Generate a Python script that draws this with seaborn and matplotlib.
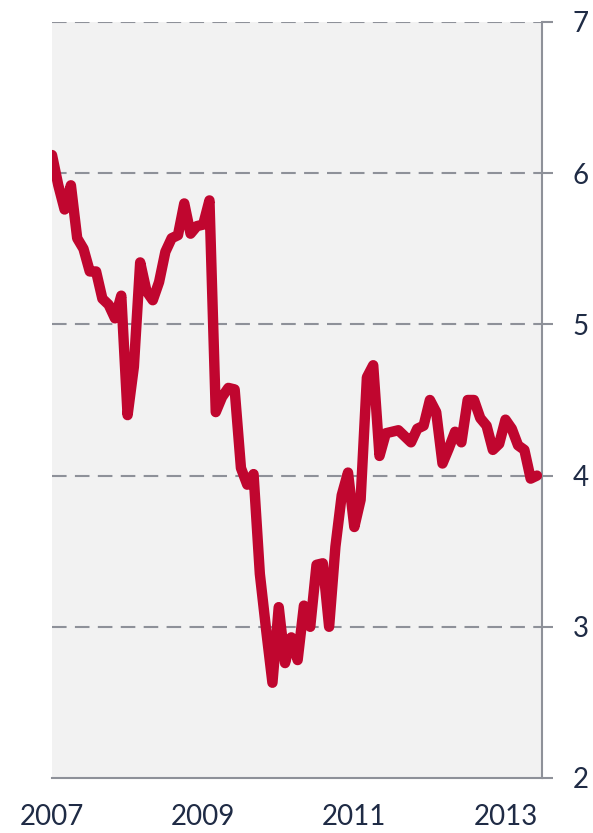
import matplotlib
matplotlib.use("Agg")
import matplotlib.pyplot as plt
import seaborn as sns
import pandas as pd

# monthly values, Jan 2007 .. Jun 2013
values = [
    6.12, 5.92, 5.76, 5.92, 5.57, 5.50, 5.35, 5.35, 5.17, 5.13, 5.04, 5.19,
    4.40, 4.72, 5.41, 5.22, 5.16, 5.28, 5.48, 5.57, 5.59, 5.80, 5.60, 5.65,
    5.66, 5.82, 4.42, 4.52, 4.58, 4.57, 4.05, 3.94, 4.01, 3.35, 2.98, 2.63,
    3.13, 2.76, 2.93, 2.78, 3.14, 3.00, 3.41, 3.42, 3.00, 3.53, 3.87, 4.02,
    3.66, 3.84, 4.65, 4.73, 4.13, 4.28, 4.29, 4.30, 4.26, 4.22, 4.31, 4.33,
    4.50, 4.42, 4.08, 4.18, 4.29, 4.22, 4.50, 4.50, 4.38, 4.33, 4.17, 4.21,
    4.37, 4.31, 4.20, 4.17, 3.98, 4.00,
]
year_ticks = [0, 24, 48, 72]
year_labels = ["2007", "2009", "2011", "2013"]
y_ticks = [2, 3, 4, 5, 6, 7]

df = pd.DataFrame({"month": range(len(values)), "value": values})

sns.set_style("white")
plt.rcParams["font.family"] = ["Lato", "DejaVu Sans"]

grid_col = "#8e9199"
text_col = "#1f2b45"

fig = plt.figure(figsize=(5.93, 8.33), dpi=100)
ax = fig.add_axes([52 / 593, 1 - 778 / 833, (542 - 52) / 593, (778 - 22) / 833])
ax.set_facecolor("#f2f2f2")

for y in y_ticks[1:]:
    ax.axhline(y, color=grid_col, lw=1.5, ls=(0, (7, 4)), zorder=1)

sns.lineplot(data=df, x="month", y="value", color="#c0062f", lw=7.5,
             ax=ax, zorder=3, solid_capstyle="round", solid_joinstyle="round")

ax.set_xlim(0, 77.8)
ax.set_ylim(2, 7)
ax.set_xticks(year_ticks)
ax.set_xticklabels(year_labels)
ax.set_yticks(y_ticks)
ax.yaxis.tick_right()
ax.set_xlabel("")
ax.set_ylabel("")

for s in ["left", "top"]:
    ax.spines[s].set_visible(False)
for s in ["bottom", "right"]:
    ax.spines[s].set_color(grid_col)
    ax.spines[s].set_linewidth(1.5)

ax.tick_params(axis="x", direction="out", length=8, width=1.5, color=grid_col,
               labelsize=20, labelcolor=text_col, pad=11)
ax.tick_params(axis="y", direction="out", length=8, width=1.5, color=grid_col,
               labelsize=20, labelcolor=text_col, pad=14, right=True, left=False)

fig.savefig("out.png", dpi=100)
